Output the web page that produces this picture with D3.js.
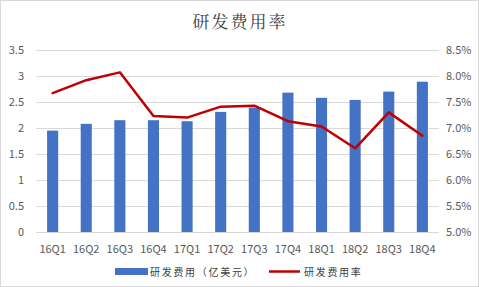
<!DOCTYPE html>
<html><head><meta charset="utf-8">
<script src="https://cdn.jsdelivr.net/npm/d3@7"></script>
<style>body{margin:0;background:#fff}svg{display:block}</style>
</head><body>
<svg id="c" width="479" height="287"></svg>
<script>
const categories = ["16Q1","16Q2","16Q3","16Q4","17Q1","17Q2","17Q3","17Q4","18Q1","18Q2","18Q3","18Q4"];
const rdExpense = [1.95,2.08,2.15,2.15,2.13,2.31,2.39,2.68,2.58,2.54,2.70,2.89];
const rdRate = [7.67,7.92,8.07,7.23,7.20,7.41,7.43,7.13,7.03,6.61,7.30,6.85];
const leftTicks = [0,0.5,1,1.5,2,2.5,3,3.5];
const rightTicks = [5.0,5.5,6.0,6.5,7.0,7.5,8.0,8.5];
const title = "研发费用率";
const legendLabels = ["研发费用（亿美元）","研发费用率"];

const svg = d3.select("#c");
const font = "'Noto Sans CJK SC','Noto Sans',sans-serif";
svg.append("rect").attr("x",0.5).attr("y",0.5).attr("width",478).attr("height",286)
  .attr("fill","#fff").attr("stroke","#d9d9d9");

const x = d3.scaleBand().domain(categories).range([36,439]).paddingInner(0.67).paddingOuter(0.33);
const yL = d3.scaleLinear().domain([0,3.5]).range([232,50]);
const yR = d3.scaleLinear().domain([5,8.5]).range([232,50]);

// grid
svg.append("g").selectAll("line").data(leftTicks).join("line")
  .attr("x1",36).attr("x2",439).attr("y1",d=>yL(d)+0.5).attr("y2",d=>yL(d)+0.5)
  .attr("stroke","#d9d9d9").attr("stroke-width",1);

// left axis labels
svg.append("g").selectAll("text").data(leftTicks).join("text")
  .attr("x",24).attr("y",d=>yL(d)).attr("dy","0.35em").attr("text-anchor","end")
  .attr("font-family",font).attr("font-size",11).attr("fill","#595959")
  .text(d=>d3.format("")(d));
// right axis labels
svg.append("g").selectAll("text").data(rightTicks).join("text")
  .attr("x",446).attr("y",d=>yR(d)).attr("dy","0.35em").attr("text-anchor","start")
  .attr("font-family",font).attr("font-size",11).attr("fill","#595959")
  .text(d=>d.toFixed(1)+"%");

// bars
svg.append("g").selectAll("rect").data(rdExpense).join("rect")
  .attr("x",(d,i)=>x(categories[i])).attr("width",x.bandwidth())
  .attr("y",d=>yL(d)).attr("height",d=>yL(0)-yL(d)).attr("fill","#4472C4");

// line
const line = d3.line().x((d,i)=>x(categories[i])+x.bandwidth()/2).y(d=>yR(d));
svg.append("path").datum(rdRate).attr("d",line).attr("fill","none")
  .attr("stroke","#C00000").attr("stroke-width",2.5).attr("stroke-linejoin","round").attr("stroke-linecap","round");

// x labels
svg.append("g").selectAll("text").data(categories).join("text")
  .attr("x",d=>x(d)+x.bandwidth()/2).attr("y",249).attr("dy","0.35em").attr("text-anchor","middle")
  .attr("font-family",font).attr("font-size",11).attr("fill","#595959").text(d=>d);

// title
svg.append("text").attr("x",240).attr("y",22).attr("dy","0.35em").attr("text-anchor","middle")
  .attr("font-family","'Noto Serif CJK SC','Noto Sans CJK SC',serif").attr("font-size",17).attr("fill","#404040")
  .attr("letter-spacing",2).text(title);

// legend
svg.append("rect").attr("x",115).attr("y",268).attr("width",33).attr("height",7).attr("fill","#4472C4");
svg.append("text").attr("x",150).attr("y",272).attr("dy","0.35em").attr("font-family",font)
  .attr("font-size",10).attr("fill","#404040").attr("letter-spacing",1.7).text(legendLabels[0]);
svg.append("line").attr("x1",269).attr("x2",300).attr("y1",271.5).attr("y2",271.5)
  .attr("stroke","#C00000").attr("stroke-width",2.5);
svg.append("text").attr("x",304).attr("y",272).attr("dy","0.35em").attr("font-family",font)
  .attr("font-size",10).attr("fill","#404040").attr("letter-spacing",1.7).text(legendLabels[1]);
</script>
</body></html>
